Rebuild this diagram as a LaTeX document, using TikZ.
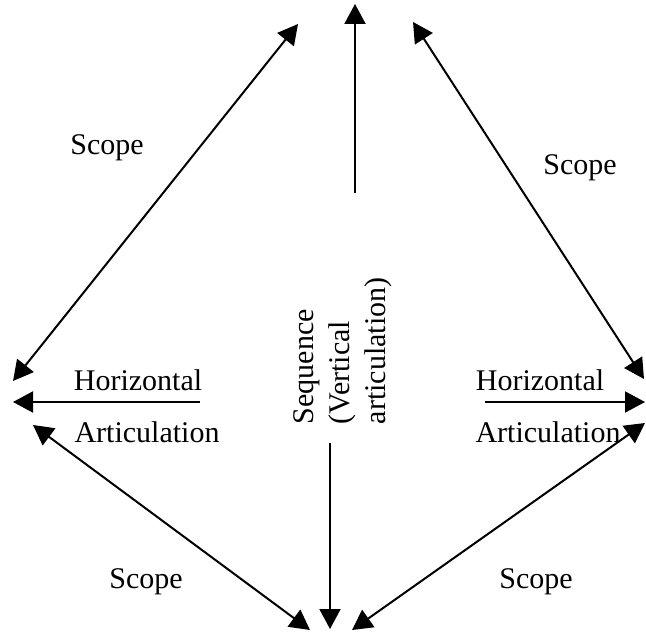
\documentclass[tikz,border=0pt]{standalone}
\usepackage{fontspec}
\setmainfont{Liberation Serif}
\usetikzlibrary{arrows.meta}

\tikzset{
  lbl/.style={font=\fontsize{15}{18}\selectfont, inner sep=1pt},
  onearrow/.style={line width=1pt,-{Triangle[length=10pt,width=10.5pt]}},
  twoarrow/.style={line width=1pt,{Triangle[length=10pt,width=10.5pt]}-{Triangle[length=10pt,width=10.5pt]}},
}

\begin{document}
\begin{tikzpicture}[x=0.5pt,y=-0.5pt]
  \useasboundingbox (0,0) rectangle (646,635);
  % end points of the arrows
  \coordinate (topTip) at (355,4);
  \coordinate (topFoot) at (355,193);
  \coordinate (botFoot) at (330,443);
  \coordinate (botTip) at (330,629);
  \coordinate (leftTip) at (13,402);
  \coordinate (leftFoot) at (200,402);
  \coordinate (rightFoot) at (485,402);
  \coordinate (rightTip) at (645,402);
  \coordinate (nwA) at (13,381);
  \coordinate (nwB) at (298,24);
  \coordinate (neA) at (413,22);
  \coordinate (neB) at (644,379);
  \coordinate (swA) at (33,425);
  \coordinate (swB) at (310,630);
  \coordinate (seA) at (352,630);
  \coordinate (seB) at (645,423);
  % labels
  \node[lbl] (scopeNW) at (107,148) {Scope};
  \node[lbl] (scopeNE) at (580,168) {Scope};
  \node[lbl] (scopeSW) at (146,582) {Scope};
  \node[lbl] (scopeSE) at (536,582) {Scope};
  \node[lbl] (horizL) at (138,380) {Horizontal};
  \node[lbl] (articL) at (147,432) {Articulation};
  \node[lbl] (horizR) at (540,380) {Horizontal};
  \node[lbl] (articR) at (548,432) {Articulation};
  \node[lbl, rotate=90, align=left, inner sep=0pt] (seq) at (343,351)
    {Sequence\\(Vertical\\articulation)};
  % arrows
  \draw[onearrow] (topFoot) -- (topTip);
  \draw[onearrow] (botFoot) -- (botTip);
  \draw[onearrow] (leftFoot) -- (leftTip);
  \draw[onearrow] (rightFoot) -- (rightTip);
  \draw[twoarrow] (nwA) -- (nwB);
  \draw[twoarrow] (neA) -- (neB);
  \draw[twoarrow] (swA) -- (swB);
  \draw[twoarrow] (seA) -- (seB);
\end{tikzpicture}
\end{document}
